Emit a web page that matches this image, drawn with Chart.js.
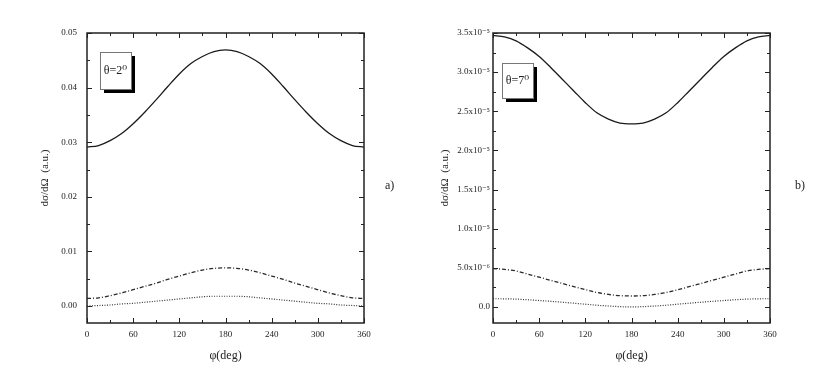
<!DOCTYPE html>
<html>
<head>
<meta charset="utf-8">
<script src="https://cdn.jsdelivr.net/npm/chart.js@4/dist/chart.umd.min.js"></script>
<style>
  html,body{margin:0;padding:0;background:#fff;}
  #wrap{position:relative;width:830px;height:373px;overflow:hidden;}
  .panel{position:absolute;top:0;width:415px;height:373px;}
</style>
</head>
<body>
<div id="wrap">
  <div class="panel" style="left:0"><canvas id="chartA"></canvas></div>
  <div class="panel" style="left:415px"><canvas id="chartB"></canvas></div>
</div>
<script>
// ---------- DATA ----------
const phi = [0,15,30,45,60,75,90,105,120,135,150,165,180,195,210,225,240,255,270,285,300,315,330,345,360];

// panel a) theta = 2 deg
const solidA   = [0.0291,0.0294,0.0303,0.0316,0.0334,0.0355,0.0378,0.0402,0.0425,0.0444,0.0457,0.0466,0.0469,0.0466,0.0457,0.0444,0.0425,0.0402,0.0378,0.0355,0.0334,0.0316,0.0303,0.0294,0.0291];
const dashDotA = [0.0014,0.0015,0.0019,0.0024,0.0030,0.0036,0.0042,0.0049,0.0055,0.0061,0.0066,0.0069,0.0070,0.0069,0.0066,0.0061,0.0055,0.0049,0.0042,0.0036,0.0030,0.0024,0.0019,0.0015,0.0014];
const dottedA  = [0.0000,0.0001,0.0002,0.0004,0.0005,0.0007,0.0009,0.0011,0.0013,0.0015,0.0017,0.0018,0.0018,0.0018,0.0017,0.0015,0.0013,0.0011,0.0009,0.0007,0.0005,0.0004,0.0002,0.0001,0.0000];
const yTicksA  = [0, 0.01, 0.02, 0.03, 0.04, 0.05];
const yLabelsA = ['0.00','0.01','0.02','0.03','0.04','0.05'];

// panel b) theta = 7 deg
const solidB   = [3.47e-5,3.45e-5,3.40e-5,3.31e-5,3.20e-5,3.06e-5,2.91e-5,2.76e-5,2.61e-5,2.48e-5,2.40e-5,2.35e-5,2.34e-5,2.35e-5,2.40e-5,2.48e-5,2.61e-5,2.76e-5,2.91e-5,3.06e-5,3.20e-5,3.31e-5,3.40e-5,3.45e-5,3.47e-5];
const dashDotB = [4.9e-6,4.8e-6,4.6e-6,4.2e-6,3.8e-6,3.4e-6,3.0e-6,2.6e-6,2.2e-6,1.85e-6,1.6e-6,1.45e-6,1.4e-6,1.45e-6,1.6e-6,1.85e-6,2.2e-6,2.6e-6,3.0e-6,3.4e-6,3.8e-6,4.2e-6,4.6e-6,4.8e-6,4.9e-6];
const dottedB  = [1.05e-6,1.04e-6,1.0e-6,0.92e-6,0.82e-6,0.72e-6,0.6e-6,0.48e-6,0.35e-6,0.22e-6,0.12e-6,0.04e-6,0.0,0.04e-6,0.12e-6,0.22e-6,0.35e-6,0.48e-6,0.6e-6,0.72e-6,0.82e-6,0.92e-6,1.0e-6,1.04e-6,1.05e-6];
const yTicksB  = [0, 5e-6, 1e-5, 1.5e-5, 2e-5, 2.5e-5, 3e-5, 3.5e-5];
const yLabelsB = ['0.0','5.0x10\u207B\u2076','1.0x10\u207B\u2075','1.5x10\u207B\u2075','2.0x10\u207B\u2075','2.5x10\u207B\u2075','3.0x10\u207B\u2075','3.5x10\u207B\u2075'];

const xTicks = [0,60,120,180,240,300,360];

const SERIF = "'Liberation Serif','DejaVu Serif',serif";
const INK = '#222';

// ---------- PLUGIN: frame, inward ticks, theta box, panel tag ----------
const framePlugin = {
  id:'frame',
  afterDraw(chart, args, opts){
    const {ctx, chartArea:a, scales:{x, y}} = chart;
    ctx.save();
    ctx.strokeStyle = INK;
    ctx.lineWidth = 1.5;
    ctx.strokeRect(a.left, a.top, a.right - a.left, a.bottom - a.top);
    ctx.lineWidth = 1;
    ctx.beginPath();
    // x ticks every 30, major every 60
    for(let v = 0; v <= 360; v += 30){
      const px = Math.round(x.getPixelForValue(v)) + 0.5;
      const len = v % 60 === 0 ? 5 : 3;
      ctx.moveTo(px, a.bottom); ctx.lineTo(px, a.bottom - len);
      ctx.moveTo(px, a.top); ctx.lineTo(px, a.top + len);
    }
    // y ticks: majors at labels, minors halfway
    const yt = opts.yTicks;
    const step = yt[1] - yt[0];
    for(let i = 0; i < yt.length; i++){
      const vals = [[yt[i], 5], [yt[i] + step/2, 3]];
      vals.forEach(([v, len]) => {
        if(v > y.max + 1e-12) return;
        const py = Math.round(y.getPixelForValue(v)) + 0.5;
        ctx.moveTo(a.left, py); ctx.lineTo(a.left + len, py);
        ctx.moveTo(a.right, py); ctx.lineTo(a.right - len, py);
      });
    }
    ctx.stroke();

    // theta box with shadow
    const b = opts.box;
    ctx.fillStyle = '#000';
    ctx.fillRect(a.left + b.x + 4, a.top + b.y + 4, b.w, b.h);
    ctx.fillStyle = '#fff';
    ctx.fillRect(a.left + b.x, a.top + b.y, b.w, b.h);
    ctx.strokeStyle = '#777';
    ctx.lineWidth = 1;
    ctx.strokeRect(a.left + b.x + 0.5, a.top + b.y + 0.5, b.w, b.h);
    ctx.fillStyle = INK;
    ctx.font = "12px " + SERIF;
    ctx.textAlign = 'center';
    ctx.textBaseline = 'middle';
    ctx.fillText(b.text, a.left + b.x + b.w/2, a.top + b.y + b.h/2);

    // panel tag
    ctx.font = "12px " + SERIF;
    ctx.textAlign = 'left';
    ctx.fillText(opts.tag, opts.tagX, 186);
    ctx.restore();
  }
};

function makeChart(id, solid, dashDot, dotted, yMin, yMax, yTicks, yLabels, cfg){
  return new Chart(document.getElementById(id), {
    type:'line',
    data:{
      labels: phi,
      datasets:[
        {data: solid, borderColor: '#1a1a1a', borderWidth: 1.3},
        {data: dashDot, borderColor: '#2a2a2a', borderWidth: 1.3, borderDash:[4,2,1,2]},
        {data: dotted, borderColor: '#333', borderWidth: 1.2, borderDash:[1,1.5]}
      ].map(d => Object.assign(d, {pointRadius:0, cubicInterpolationMode:'monotone', fill:false}))
    },
    options:{
      responsive:true,
      maintainAspectRatio:false,
      animation:false,
      layout:{padding:{left: cfg.padLeft, right: cfg.padRight, top: 33, bottom: 8}},
      plugins:{
        legend:{display:false},
        tooltip:{enabled:false},
        frame:{yTicks: yTicks, box: cfg.box, tag: cfg.tag, tagX: cfg.tagX}
      },
      scales:{
        x:{
          type:'linear', min:0, max:360,
          afterBuildTicks: s => { s.ticks = xTicks.map(v => ({value:v})); },
          afterFit: s => { s.height = 42; },
          grid:{display:false, drawTicks:false},
          border:{display:false},
          ticks:{color:INK, font:{family:SERIF, size:9}, padding:6, maxRotation:0},
          title:{display:true, text:'\u03C6(deg)', color:INK, font:{family:SERIF, size:12}, padding:{top:4, bottom:2}}
        },
        y:{
          type:'linear', min:yMin, max:yMax,
          afterBuildTicks: s => { s.ticks = yTicks.map(v => ({value:v})); },
          afterFit: s => { s.width = cfg.axisWidth; },
          grid:{display:false, drawTicks:false},
          border:{display:false},
          ticks:{color:INK, font:{family:SERIF, size:9}, padding: cfg.tickPad,
                 callback: (v, i) => yLabels[i]},
          title:{display:true, text:'d\u03C3/d\u03A9  (a.u.)', color:INK, font:{family:SERIF, size:11}, padding:{top:4, bottom:4}}
        }
      }
    },
    plugins:[framePlugin]
  });
}

makeChart('chartA', solidA, dashDotA, dottedA, -0.0031, 0.05, yTicksA, yLabelsA,
  {padLeft:35, padRight:51, axisWidth:52, tickPad:10, tag:'a)', tagX:385,
   box:{x:13, y:19, w:31, h:37, text:'\u03B8=2\u2070'}});

makeChart('chartB', solidB, dashDotB, dottedB, -2.05e-6, 3.5e-5, yTicksB, yLabelsB,
  {padLeft:20, padRight:60, axisWidth:58, tickPad:3, tag:'b)', tagX:380,
   box:{x:9, y:30, w:31, h:35, text:'\u03B8=7\u2070'}});
</script>
</body>
</html>
